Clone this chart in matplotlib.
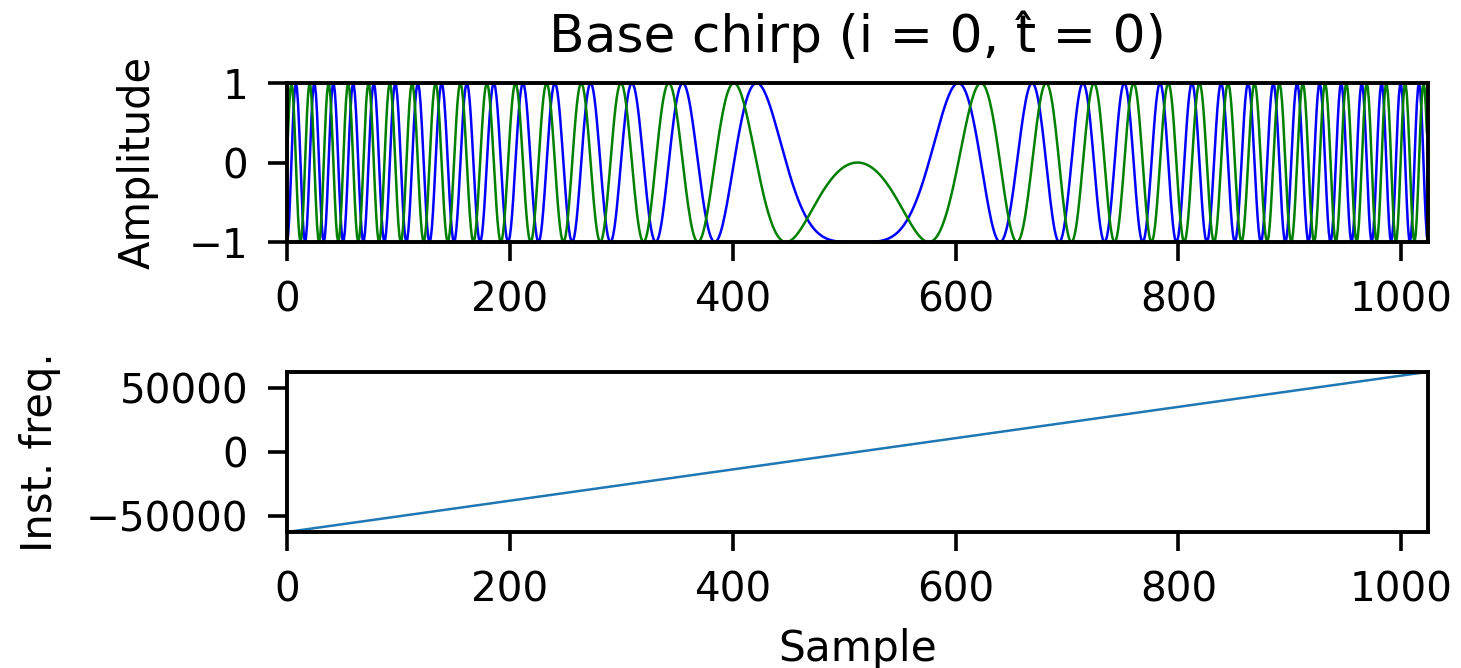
import numpy as np
import matplotlib.pyplot as plt

# chirp parameters
n_samples = 1024          # samples per symbol
bandwidth = 125000.0      # Hz, sweep from -BW/2 to +BW/2
sample_rate = 1000000.0   # Hz
phase_offset = np.pi      # real part sits at -1 at the centre
symbol_i = 0
t_hat = 0

n = np.arange(n_samples)
inst_freq = -bandwidth / 2 + bandwidth * n / n_samples
t = n / sample_rate
phase = phase_offset + 2 * np.pi * (-bandwidth / 2 * t + bandwidth / (2 * n_samples / sample_rate) * t ** 2)
chirp = np.exp(1j * phase)

fig = plt.figure(figsize=(7.305, 3.34), dpi=200)
ax1 = fig.add_axes([0.1964, 0.6377, 0.7810, 0.2380])
ax2 = fig.add_axes([0.1964, 0.2036, 0.7810, 0.2395])

ax1.plot(n, chirp.real, color='b', lw=0.9)
ax1.plot(n, chirp.imag, color='g', lw=0.9)
ax1.set_xlim(0, n_samples)
ax1.set_ylim(-1, 1)
ax1.set_yticks([-1, 0, 1])
ax1.set_xticks([0, 200, 400, 600, 800, 1000])
ax1.set_ylabel('Amplitude', fontsize=15, labelpad=11)
ax1.set_title(f'Base chirp (i = {symbol_i}, t\u0302 = {t_hat})', fontsize=18.7, pad=11)

ax2.plot(n, inst_freq, color='C0', lw=0.9)
ax2.set_xlim(0, n_samples)
ax2.set_ylim(inst_freq.min(), inst_freq.max())
ax2.set_yticks([-50000, 0, 50000])
ax2.set_xticks([0, 200, 400, 600, 800, 1000])
ax2.set_ylabel('Inst. freq.', fontsize=15, labelpad=9)
ax2.set_xlabel('Sample', fontsize=15.2, labelpad=6.5)

for ax in (ax1, ax2):
    ax.tick_params(labelsize=14.6, length=6.8, width=1.3, pad=7)
    for s in ax.spines.values():
        s.set_linewidth(1.4)

fig.savefig('out.png', dpi=200)
